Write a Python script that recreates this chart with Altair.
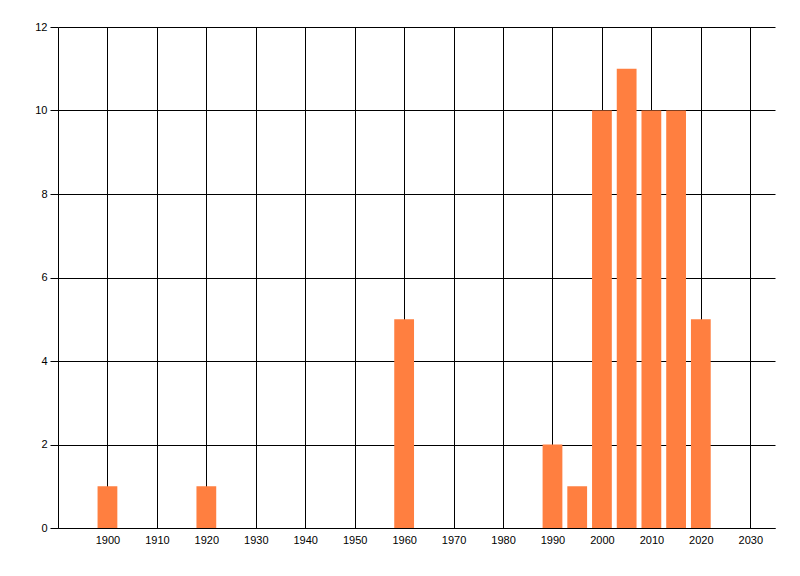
import altair as alt
import pandas as pd

years = [1900, 1920, 1960, 1990, 1995, 2000, 2005, 2010, 2015, 2020]
counts = [1, 1, 5, 2, 1, 10, 11, 10, 10, 5]
x_ticks = list(range(1900, 2031, 10))
y_ticks = list(range(0, 13, 2))

df = pd.DataFrame({"year": years, "count": counts})

bars = alt.Chart(df).transform_calculate(
    x0="datum.year - 2", x1="datum.year + 2"
).mark_bar(color="#FF7F40", opacity=1).encode(
    x=alt.X("x0:Q", scale=alt.Scale(domain=[1890, 2035], nice=False, zero=False, padding=0),
            axis=alt.Axis(values=x_ticks, format="d", title=None, grid=True,
                          gridColor="black", gridOpacity=1, gridWidth=1,
                          domainColor="black", domainWidth=1, ticks=False, offset=0,
                          labelPadding=6, labelColor="black", labelFont="Liberation Sans",
                          labelFontSize=11)),
    x2="x1:Q",
    y=alt.Y("count:Q", scale=alt.Scale(domain=[0, 12], nice=False, padding=0),
            axis=alt.Axis(values=y_ticks, title=None, grid=True, offset=0,
                          gridColor="black", gridOpacity=1, gridWidth=1,
                          domainColor="black", domainWidth=1, tickColor="black",
                          tickSize=8, tickWidth=1, labelPadding=3, labelColor="black",
                          labelFont="Liberation Sans", labelFontSize=11)),
    y2=alt.datum(0),
)

chart = bars.properties(
    width=717, height=501,
    padding={"left": 50, "top": 19, "right": 10, "bottom": 30},
    autosize="none",
).configure(background="white").configure_view(stroke=None)

chart.save("out.html", embed_options={"renderer": "svg", "actions": False})
